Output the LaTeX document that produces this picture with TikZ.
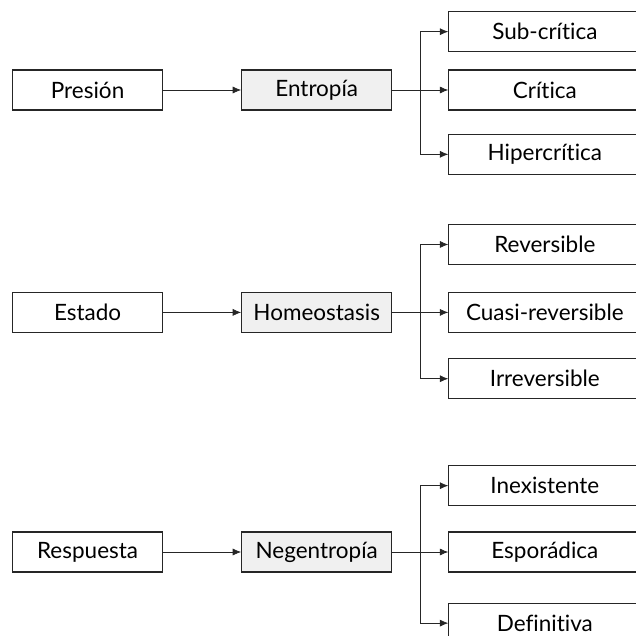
\documentclass[tikz,border=0pt]{standalone}
\usepackage{fontspec}
\setmainfont{Lato}[Ligatures=NoCommon]
\usetikzlibrary{arrows.meta, positioning}

\begin{document}
\begin{tikzpicture}[
  node distance=1.95cm,
  caja/.style={rectangle, draw=black!85, line width=0.8pt, fill=white,
               minimum width=3.75cm, minimum height=1cm, inner sep=0pt,
               font=\fontsize{16}{19}\selectfont},
  centro/.style={caja, fill=black!6},
  hijo/.style={caja, minimum width=4.8cm},
  linea/.style={line width=0.5pt, black!85},
  flecha/.style={linea, -{Latex[length=6pt, width=5pt]}}
]
\useasboundingbox (0,0) rectangle (15.9,-15.9);
\clip (0,0) rectangle (15.9,-15.9);

% Presion -> Entropia
\node[caja] (presion) at (2.19,-2.25) {Presión};
\node[centro, right=of presion] (entropia) {Entropía};
\node[hijo, right=1.4cm of entropia] (critica) {Crítica};
\node[hijo, above=0.43cm of critica] (subcritica) {Sub-crítica};
\node[hijo, below=0.58cm of critica] (hipercritica) {Hipercrítica};
\coordinate[right=0.7cm of entropia] (rama1);

% Estado -> Homeostasis
\node[caja] (estado) at (2.19,-7.81) {Estado};
\node[centro, right=of estado] (homeostasis) {Homeostasis};
\node[hijo, right=1.4cm of homeostasis] (cuasi) {Cuasi-reversible};
\node[hijo, above=0.67cm of cuasi] (reversible) {Reversible};
\node[hijo, below=0.63cm of cuasi] (irreversible) {Irreversible};
\coordinate[right=0.7cm of homeostasis] (rama2);

% Respuesta -> Negentropia
\node[caja] (respuesta) at (2.19,-13.8) {Respuesta};
\node[centro, right=of respuesta] (negentropia) {Negentropía};
\node[hijo, right=1.4cm of negentropia] (esporadica) {Esporádica};
\node[hijo, above=0.63cm of esporadica] (inexistente) {Inexistente};
\node[hijo, below=0.75cm of esporadica] (definitiva) {Definitiva};
\coordinate[right=0.7cm of negentropia] (rama3);

% Flechas
\draw[flecha] (presion) -- (entropia);
\draw[linea]  (entropia) -- (rama1);
\draw[flecha] (rama1) |- (subcritica);
\draw[flecha] (rama1) -- (critica);
\draw[flecha] (rama1) |- (hipercritica);

\draw[flecha] (estado) -- (homeostasis);
\draw[linea]  (homeostasis) -- (rama2);
\draw[flecha] (rama2) |- (reversible);
\draw[flecha] (rama2) -- (cuasi);
\draw[flecha] (rama2) |- (irreversible);

\draw[flecha] (respuesta) -- (negentropia);
\draw[linea]  (negentropia) -- (rama3);
\draw[flecha] (rama3) |- (inexistente);
\draw[flecha] (rama3) -- (esporadica);
\draw[flecha] (rama3) |- (definitiva);

\end{tikzpicture}
\end{document}
